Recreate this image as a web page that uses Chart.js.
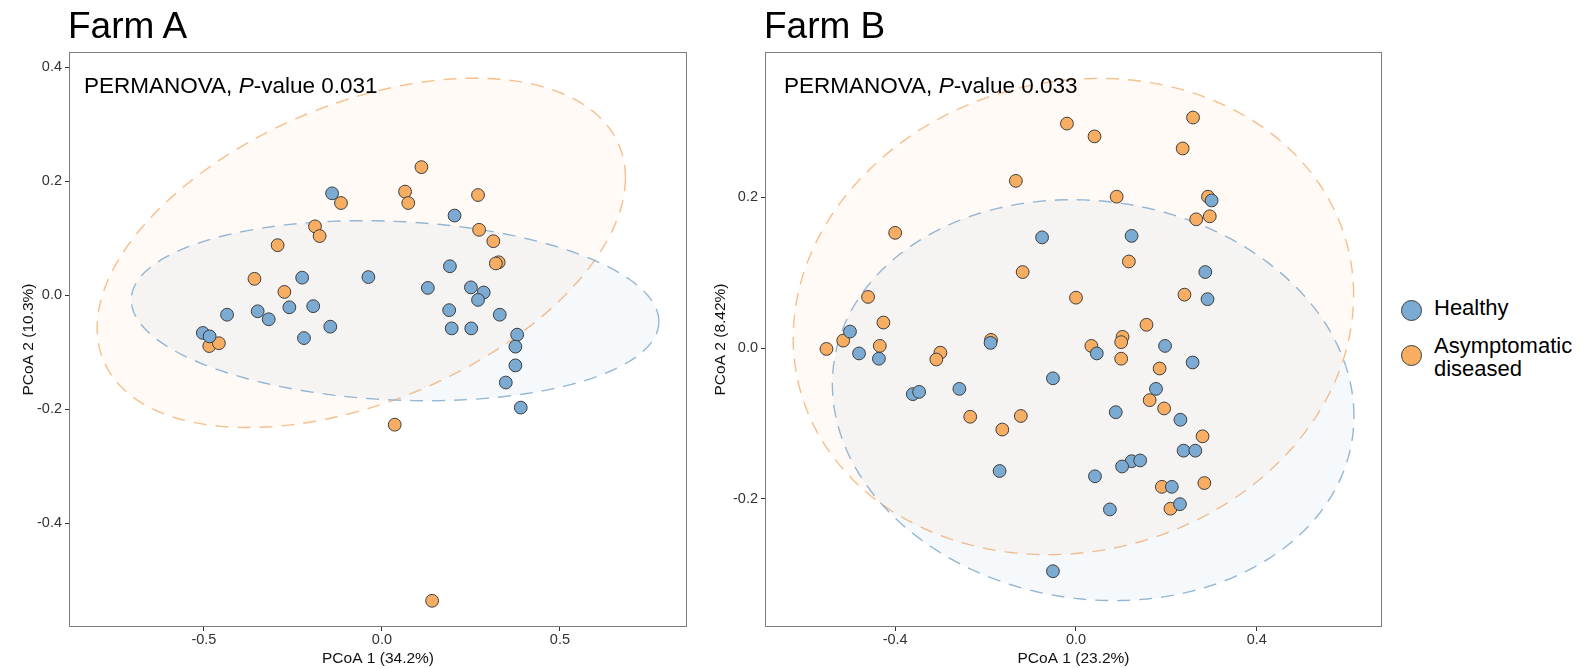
<!DOCTYPE html>
<html>
<head>
<meta charset="utf-8">
<script src="https://cdn.jsdelivr.net/npm/chart.js@4.4.1/dist/chart.umd.min.js"></script>
<style>
  body { margin: 0; background: #fff; font-family: "Liberation Sans", Arial, sans-serif; }
  #wrap { position: relative; width: 1585px; height: 668px; overflow: hidden; }
  .box { position: absolute; top: 0; width: 700px; height: 668px; }
  .txt { position: absolute; line-height: 1; white-space: nowrap; color: #000; z-index: 2; }
  .farm { font-size: 37px; top: 7px; }
  .perm { font-size: 22.5px; top: 75px; }
  .key { position: absolute; width: 19px; height: 19px; border-radius: 50%; border: 1px solid #3d3d3d; z-index: 2; }
  .leg { font-size: 22px; left: 1434px; }
</style>
</head>
<body>
<div id="wrap">
  <div class="box" style="left:0"><canvas id="farmA" width="700" height="668"></canvas></div>
  <div class="box" style="left:700px"><canvas id="farmB" width="700" height="668"></canvas></div>

  <div class="txt farm" style="left:68px">Farm A</div>
  <div class="txt farm" style="left:764px">Farm B</div>
  <div class="txt perm" style="left:84px">PERMANOVA, <i>P</i>-value 0.031</div>
  <div class="txt perm" style="left:784px">PERMANOVA, <i>P</i>-value 0.033</div>

  <span class="key" style="left:1401px;top:300px;background:#7BAAD3"></span>
  <div class="txt leg" style="top:297px">Healthy</div>
  <span class="key" style="left:1401px;top:345px;background:#F7AE62"></span>
  <div class="txt leg" style="top:335px">Asymptomatic</div>
  <div class="txt leg" style="top:358px">diseased</div>
</div>

<script>
// ── Farm A data ────────────────────────────────
const farmAHealthyX = [-0.140, 0.204, 0.191, -0.038, -0.224, 0.129, 0.250, 0.286, 0.270, -0.435,
                       -0.349, -0.318, -0.260, -0.193, 0.189, 0.331, -0.145, -0.219, 0.196, 0.251,
                       -0.503, -0.484, 0.380, 0.375, 0.375, 0.348, 0.390];
const farmAHealthyY = [0.179, 0.140, 0.051, 0.032, 0.031, 0.013, 0.014, 0.005, -0.008, -0.034,
                       -0.028, -0.042, -0.021, -0.019, -0.026, -0.034, -0.055, -0.075, -0.058, -0.058,
                       -0.066, -0.072, -0.069, -0.090, -0.123, -0.153, -0.197];
const farmADiseasedX = [0.111, 0.065, 0.074, -0.115, 0.270, -0.188, -0.175, -0.293, 0.273, 0.313,
                        0.328, 0.320, -0.358, -0.274, -0.485, -0.458, 0.036, 0.141];
const farmADiseasedY = [0.225, 0.182, 0.162, 0.162, 0.176, 0.121, 0.104, 0.088, 0.115, 0.095,
                        0.058, 0.056, 0.029, 0.006, -0.089, -0.084, -0.227, -0.536];

// ── Farm B data ────────────────────────────────
const farmBHealthyX = [0.300, -0.075, 0.123, 0.286, 0.291, -0.500, -0.480, -0.436, -0.189, 0.046,
                       0.197, 0.258, -0.051, -0.361, -0.347, -0.258, 0.177, 0.088, 0.231, 0.238,
                       0.264, 0.123, 0.142, 0.102, -0.169, 0.042, 0.212, 0.230, 0.075, -0.051];
const farmBHealthyY = [0.196, 0.147, 0.149, 0.101, 0.065, 0.022, -0.007, -0.014, 0.007, -0.007,
                       0.003, -0.019, -0.040, -0.061, -0.058, -0.054, -0.054, -0.085, -0.095, -0.136,
                       -0.136, -0.150, -0.149, -0.157, -0.163, -0.170, -0.184, -0.207, -0.214, -0.296];
const farmBDiseasedX = [-0.020, 0.041, 0.259, 0.236, -0.133, 0.090, 0.292, 0.266, 0.296, -0.400,
                        0.117, -0.118, -0.460, 0.000, 0.240, -0.426, 0.156, -0.552, -0.515, -0.434,
                        -0.300, -0.309, -0.188, 0.034, 0.103, 0.100, 0.100, 0.185, 0.163, 0.195,
                        -0.234, -0.122, -0.163, 0.280, 0.190, 0.284, 0.209];
const farmBDiseasedY = [0.298, 0.281, 0.306, 0.265, 0.222, 0.201, 0.201, 0.171, 0.175, 0.153,
                        0.115, 0.101, 0.068, 0.067, 0.071, 0.034, 0.031, -0.001, 0.010, 0.003,
                        -0.006, -0.015, 0.011, 0.003, 0.015, 0.008, -0.014, -0.027, -0.069, -0.080,
                        -0.091, -0.090, -0.108, -0.117, -0.184, -0.179, -0.213];

// ── 95% ellipses: [centre x, centre y, half-width x, half-height y, correlation] ──
const ellipseAHealthy  = [0.037, -0.027, 0.741, 0.158, -0.12];
const ellipseADiseased = [-0.058, 0.0745, 0.742, 0.3065, 0.43];
const ellipseBHealthy  = [0.038, -0.069, 0.577, 0.266, -0.08];
const ellipseBDiseased = [-0.0057, 0.042, 0.620, 0.316, 0.09];

// ── Axes ───────────────────────────────────────
const xTicksA = [-0.5, 0, 0.5];
const yTicksA = [-0.4, -0.2, 0, 0.2, 0.4];
const xRangeA = [-0.879, 0.857];
const yRangeA = [-0.582, 0.427];
const xTicksB = [-0.4, 0, 0.4];
const yTicksB = [-0.2, 0, 0.2];
const xRangeB = [-0.688, 0.677];
const yRangeB = [-0.370, 0.393];

const BLUE   = '#7BAAD3';
const ORANGE = '#F7AE62';

Chart.defaults.font.family = '"Liberation Sans", Arial, sans-serif';

function toPoints(xs, ys) {
  return xs.map((x, i) => ({ x, y: ys[i] }));
}

function ellipsePath(e) {
  const [cx, cy, sx, sy, r] = e;
  const k = Math.sqrt(1 - r * r);
  const pts = [];
  for (let i = 0; i <= 180; i++) {
    const t = i / 180 * Math.PI * 2;
    pts.push({ x: cx + sx * Math.cos(t), y: cy + sy * (r * Math.cos(t) + k * Math.sin(t)) });
  }
  return pts;
}

function ellipseSet(e, line, fillCol) {
  return {
    type: 'line', data: ellipsePath(e), order: 2,
    borderColor: line, borderWidth: 1.4, borderDash: [13, 9],
    backgroundColor: fillCol, fill: 'shape',
    pointRadius: 0, tension: 0
  };
}

function pointSet(pts, col) {
  return {
    type: 'scatter', data: pts, order: 0,
    backgroundColor: col, borderColor: '#3d3d3d', borderWidth: 1,
    pointRadius: 6.4
  };
}

const panelBorder = {
  id: 'panelBorder',
  afterDraw(chart) {
    const { ctx, chartArea: a } = chart;
    ctx.save();
    ctx.strokeStyle = '#7d7d7d';
    ctx.lineWidth = 1;
    ctx.strokeRect(a.left + 0.5, a.top + 0.5, a.right - a.left - 1, a.bottom - a.top - 1);
    ctx.restore();
  }
};

function axis(range, ticks, title, isX, size, titlePad) {
  return {
    type: 'linear', min: range[0], max: range[1],
    afterBuildTicks: s => { s.ticks = ticks.map(v => ({ value: v })); },
    afterFit: s => { if (isX) s.height = size; else s.width = size; },
    grid: { display: true, drawOnChartArea: false, drawTicks: true, tickLength: 4, color: '#333' },
    border: { display: false },
    ticks: {
      autoSkip: false, maxRotation: 0, padding: isX ? 0 : 3,
      color: '#333', font: { size: 14.5 },
      callback: v => v.toFixed(1)
    },
    title: {
      display: true, text: title, color: '#111', font: { size: 15.5 },
      padding: isX ? { top: 0, bottom: 0 } : { top: titlePad, bottom: 0 }
    }
  };
}

function makeFarm(id, cfg) {
  return new Chart(document.getElementById(id), {
    type: 'scatter',
    data: {
      datasets: [
        ellipseSet(cfg.eH, 'rgba(130,170,205,0.85)', 'rgba(122,170,210,0.065)'),
        ellipseSet(cfg.eD, 'rgba(245,180,120,0.85)', 'rgba(250,170,90,0.055)'),
        pointSet(cfg.healthy, BLUE),
        pointSet(cfg.diseased, ORANGE)
      ]
    },
    options: {
      responsive: false, animation: false, events: [],
      layout: { padding: { top: 52, right: cfg.padRight, left: 0, bottom: 0 } },
      plugins: { legend: { display: false }, tooltip: { enabled: false } },
      scales: {
        x: axis(cfg.xRange, cfg.xTicks, cfg.xTitle, true, 41),
        y: axis(cfg.yRange, cfg.yTicks, cfg.yTitle, false, cfg.yWidth, cfg.yTitlePad)
      }
    },
    plugins: [panelBorder]
  });
}

makeFarm('farmA', {
  healthy: toPoints(farmAHealthyX, farmAHealthyY),
  diseased: toPoints(farmADiseasedX, farmADiseasedY),
  eH: ellipseAHealthy, eD: ellipseADiseased,
  xRange: xRangeA, yRange: yRangeA, xTicks: xTicksA, yTicks: yTicksA,
  xTitle: 'PCoA 1 (34.2%)', yTitle: 'PCoA 2 (10.3%)',
  padRight: 13, yWidth: 69, yTitlePad: 19
});

makeFarm('farmB', {
  healthy: toPoints(farmBHealthyX, farmBHealthyY),
  diseased: toPoints(farmBDiseasedX, farmBDiseasedY),
  eH: ellipseBHealthy, eD: ellipseBDiseased,
  xRange: xRangeB, yRange: yRangeB, xTicks: xTicksB, yTicks: yTicksB,
  xTitle: 'PCoA 1 (23.2%)', yTitle: 'PCoA 2 (8.42%)',
  padRight: 18, yWidth: 65, yTitlePad: 11.7
});
</script>
</body>
</html>
